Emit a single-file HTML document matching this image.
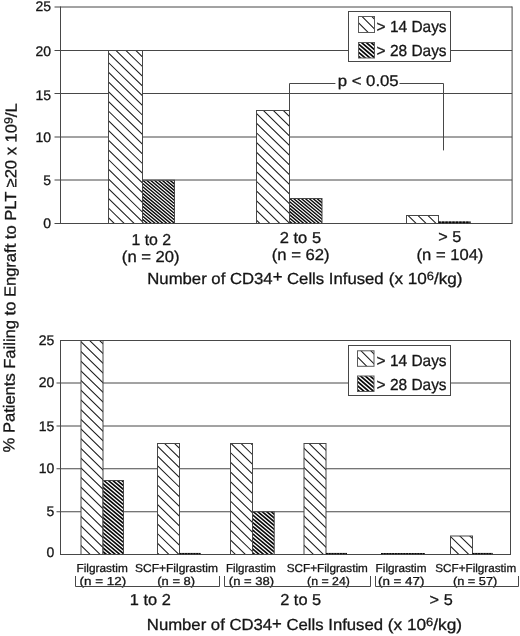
<!DOCTYPE html>
<html lang="en"><head><meta charset="utf-8"><title>Figure</title>
<style>html,body{margin:0;padding:0;background:#fff}svg{display:block;will-change:transform;filter:grayscale(1)}text{font-family:"Liberation Sans",Arial,Helvetica,sans-serif;fill:#151515;stroke:#151515;stroke-width:0.3px;text-rendering:geometricPrecision}</style>
</head><body>
<svg width="520" height="636" viewBox="0 0 520 636">
<rect width="520" height="636" fill="#fff"/>
<line x1="54.5" y1="7.00" x2="512.1" y2="7.00" stroke="#474747" stroke-width="1"/>
<line x1="54.5" y1="50.50" x2="512.1" y2="50.50" stroke="#474747" stroke-width="1"/>
<line x1="54.5" y1="93.50" x2="512.1" y2="93.50" stroke="#474747" stroke-width="1"/>
<line x1="54.5" y1="137.00" x2="512.1" y2="137.00" stroke="#474747" stroke-width="1"/>
<line x1="54.5" y1="180.00" x2="512.1" y2="180.00" stroke="#474747" stroke-width="1"/>
<line x1="54.5" y1="223.50" x2="512.1" y2="223.50" stroke="#474747" stroke-width="1"/>
<line x1="60.5" y1="6.50" x2="60.5" y2="224.00" stroke="#474747" stroke-width="1"/>
<line x1="512.1" y1="6.50" x2="512.1" y2="224.00" stroke="#474747" stroke-width="1"/>
<text x="51.0" y="11.4" font-size="14" text-anchor="end">25</text>
<text x="51.0" y="56.3" font-size="14" text-anchor="end">20</text>
<text x="51.0" y="99.5" font-size="14" text-anchor="end">15</text>
<text x="51.0" y="141.8" font-size="14" text-anchor="end">10</text>
<text x="51.0" y="184.6" font-size="14" text-anchor="end">5</text>
<text x="51.0" y="228.0" font-size="14" text-anchor="end">0</text>
<clipPath id="c1"><rect x="108.50" y="50.50" width="34.00" height="173.00"/></clipPath>
<rect x="108.50" y="50.50" width="34.00" height="173.00" fill="#fff"/>
<path clip-path="url(#c1)" d="M106.50,2.45L144.50,39.50M106.50,12.15L144.50,49.20M106.50,21.85L144.50,58.90M106.50,31.55L144.50,68.60M106.50,41.25L144.50,78.30M106.50,50.95L144.50,88.00M106.50,60.65L144.50,97.70M106.50,70.35L144.50,107.40M106.50,80.05L144.50,117.10M106.50,89.75L144.50,126.80M106.50,99.45L144.50,136.50M106.50,109.15L144.50,146.20M106.50,118.85L144.50,155.90M106.50,128.55L144.50,165.60M106.50,138.25L144.50,175.30M106.50,147.95L144.50,185.00M106.50,157.65L144.50,194.70M106.50,167.35L144.50,204.40M106.50,177.05L144.50,214.10M106.50,186.75L144.50,223.80M106.50,196.45L144.50,233.50M106.50,206.15L144.50,243.20M106.50,215.85L144.50,252.90M106.50,225.55L144.50,262.60M106.50,235.25L144.50,272.30" stroke="#1c1c1c" stroke-width="1.05" fill="none"/>
<rect x="108.50" y="50.50" width="34.00" height="173.00" fill="none" stroke="#474747" stroke-width="1"/>
<clipPath id="c2"><rect x="142.50" y="180.20" width="32.00" height="43.30"/></clipPath>
<rect x="142.50" y="180.20" width="32.00" height="43.30" fill="#fff"/>
<path clip-path="url(#c2)" d="M140.50,145.67L176.50,175.91M140.50,148.94L176.50,179.18M140.50,152.21L176.50,182.45M140.50,155.48L176.50,185.72M140.50,158.75L176.50,188.99M140.50,162.02L176.50,192.26M140.50,165.29L176.50,195.53M140.50,168.56L176.50,198.80M140.50,171.83L176.50,202.07M140.50,175.10L176.50,205.34M140.50,178.37L176.50,208.61M140.50,181.64L176.50,211.88M140.50,184.91L176.50,215.15M140.50,188.18L176.50,218.42M140.50,191.45L176.50,221.69M140.50,194.72L176.50,224.96M140.50,197.99L176.50,228.23M140.50,201.26L176.50,231.50M140.50,204.53L176.50,234.77M140.50,207.80L176.50,238.04M140.50,211.07L176.50,241.31M140.50,214.34L176.50,244.58M140.50,217.61L176.50,247.85M140.50,220.88L176.50,251.12M140.50,224.15L176.50,254.39M140.50,227.42L176.50,257.66" stroke="#0a0a0a" stroke-width="1.4026992000000003" fill="none"/>
<rect x="142.50" y="180.20" width="32.00" height="43.30" fill="none" stroke="#474747" stroke-width="1"/>
<clipPath id="c3"><rect x="256.50" y="110.50" width="33.00" height="113.00"/></clipPath>
<rect x="256.50" y="110.50" width="33.00" height="113.00" fill="#fff"/>
<path clip-path="url(#c3)" d="M254.50,63.00L291.50,99.08M254.50,72.70L291.50,108.78M254.50,82.40L291.50,118.48M254.50,92.10L291.50,128.18M254.50,101.80L291.50,137.88M254.50,111.50L291.50,147.57M254.50,121.20L291.50,157.27M254.50,130.90L291.50,166.97M254.50,140.60L291.50,176.68M254.50,150.30L291.50,186.38M254.50,160.00L291.50,196.07M254.50,169.70L291.50,205.77M254.50,179.40L291.50,215.47M254.50,189.10L291.50,225.18M254.50,198.80L291.50,234.88M254.50,208.50L291.50,244.57M254.50,218.20L291.50,254.27M254.50,227.90L291.50,263.97M254.50,237.60L291.50,273.68" stroke="#1c1c1c" stroke-width="1.05" fill="none"/>
<rect x="256.50" y="110.50" width="33.00" height="113.00" fill="none" stroke="#474747" stroke-width="1"/>
<clipPath id="c4"><rect x="289.50" y="198.50" width="32.50" height="25.00"/></clipPath>
<rect x="289.50" y="198.50" width="32.50" height="25.00" fill="#fff"/>
<path clip-path="url(#c4)" d="M287.50,163.97L324.00,194.63M287.50,167.24L324.00,197.90M287.50,170.51L324.00,201.17M287.50,173.78L324.00,204.44M287.50,177.05L324.00,207.71M287.50,180.32L324.00,210.98M287.50,183.59L324.00,214.25M287.50,186.86L324.00,217.52M287.50,190.13L324.00,220.79M287.50,193.40L324.00,224.06M287.50,196.67L324.00,227.33M287.50,199.94L324.00,230.60M287.50,203.21L324.00,233.87M287.50,206.48L324.00,237.14M287.50,209.75L324.00,240.41M287.50,213.02L324.00,243.68M287.50,216.29L324.00,246.95M287.50,219.56L324.00,250.22M287.50,222.83L324.00,253.49M287.50,226.10L324.00,256.76" stroke="#0a0a0a" stroke-width="1.4026992000000003" fill="none"/>
<rect x="289.50" y="198.50" width="32.50" height="25.00" fill="none" stroke="#474747" stroke-width="1"/>
<clipPath id="c5"><rect x="406.50" y="215.50" width="32.00" height="8.00"/></clipPath>
<rect x="406.50" y="215.50" width="32.00" height="8.00" fill="#fff"/>
<path clip-path="url(#c5)" d="M404.50,163.55L440.50,198.65M404.50,173.25L440.50,208.35M404.50,182.95L440.50,218.05M404.50,192.65L440.50,227.75M404.50,202.35L440.50,237.45M404.50,212.05L440.50,247.15M404.50,221.75L440.50,256.85M404.50,231.45L440.50,266.55" stroke="#1c1c1c" stroke-width="1.05" fill="none"/>
<rect x="406.50" y="215.50" width="32.00" height="8.00" fill="none" stroke="#474747" stroke-width="1"/>
<line x1="438.5" y1="222.3" x2="470.5" y2="222.3" stroke="#555" stroke-width="1.7"/>
<line x1="438.5" y1="222.3" x2="470.5" y2="222.3" stroke="#0a0a0a" stroke-width="1.7" stroke-dasharray="2.3 1.16"/>
<rect x="348.5" y="11.5" width="102.0" height="50.0" fill="#fff" stroke="#474747" stroke-width="1"/>
<clipPath id="c6"><rect x="358.50" y="16.50" width="16.00" height="16.00"/></clipPath>
<rect x="358.50" y="16.50" width="16.00" height="16.00" fill="#fff"/>
<path clip-path="url(#c6)" d="M356.50,-18.45L376.50,1.55M356.50,-8.65L376.50,11.35M356.50,1.15L376.50,21.15M356.50,10.95L376.50,30.95M356.50,20.75L376.50,40.75M356.50,30.55L376.50,50.55M356.50,40.35L376.50,60.35" stroke="#1c1c1c" stroke-width="1.05" fill="none"/>
<rect x="358.50" y="16.50" width="16.00" height="16.00" fill="none" stroke="#5a5a5a" stroke-width="1"/>
<clipPath id="c7"><rect x="358.50" y="42.50" width="16.00" height="15.50"/></clipPath>
<rect x="358.50" y="42.50" width="16.00" height="15.50" fill="#fff"/>
<path clip-path="url(#c7)" d="M356.50,21.77L376.50,39.03M356.50,25.87L376.50,43.13M356.50,29.97L376.50,47.23M356.50,34.07L376.50,51.33M356.50,38.17L376.50,55.43M356.50,42.27L376.50,59.53M356.50,46.37L376.50,63.63M356.50,50.47L376.50,67.73M356.50,54.57L376.50,71.83M356.50,58.67L376.50,75.93M356.50,62.77L376.50,80.03" stroke="#0a0a0a" stroke-width="1.72" fill="none"/>
<rect x="358.50" y="42.50" width="16.00" height="15.50" fill="none" stroke="#5a5a5a" stroke-width="1"/>
<text x="376.62" y="31.5" font-size="16" textLength="69.97" lengthAdjust="spacingAndGlyphs">&gt; 14 Days</text>
<text x="376.62" y="56.2" font-size="16" textLength="69.97" lengthAdjust="spacingAndGlyphs">&gt; 28 Days</text>
<path d="M289.5,110.5 V83.5 H335.4 M399.5,83.5 H443.5 V150.4" stroke="#474747" stroke-width="1" fill="none"/>
<text x="337.66" y="86.4" font-size="15.5" textLength="61.03" lengthAdjust="spacingAndGlyphs">p &lt; 0.05</text>
<text x="131.46" y="244.5" font-size="15.8" textLength="39.68" lengthAdjust="spacingAndGlyphs">1 to 2</text>
<text x="121.86" y="262.3" font-size="15.8" textLength="57.80" lengthAdjust="spacingAndGlyphs">(n = 20)</text>
<text x="279.78" y="242.9" font-size="15.8" textLength="41.32" lengthAdjust="spacingAndGlyphs">2 to 5</text>
<text x="271.71" y="259.7" font-size="15.8" textLength="57.87" lengthAdjust="spacingAndGlyphs">(n = 62)</text>
<text x="438.19" y="242.4" font-size="15.8" textLength="23.07" lengthAdjust="spacingAndGlyphs">&gt; 5</text>
<text x="416.56" y="259.5" font-size="15.8" textLength="66.85" lengthAdjust="spacingAndGlyphs">(n = 104)</text>
<text x="147.28" y="283.6" font-size="16" textLength="236.37" lengthAdjust="spacingAndGlyphs">Number of CD34<tspan dy="-1.6">+</tspan><tspan dy="1.6"> Cells Infused</tspan></text>
<text x="388.69" y="283.6" font-size="16" textLength="73.79" lengthAdjust="spacingAndGlyphs">(x 10<tspan dy="-4" font-size="12">6</tspan><tspan dy="4">/kg)</tspan></text>
<line x1="60.5" y1="340.50" x2="510.5" y2="340.50" stroke="#474747" stroke-width="1"/>
<line x1="56.5" y1="383.00" x2="510.5" y2="383.00" stroke="#474747" stroke-width="1"/>
<line x1="56.5" y1="426.00" x2="510.5" y2="426.00" stroke="#474747" stroke-width="1"/>
<line x1="56.5" y1="468.75" x2="510.5" y2="468.75" stroke="#474747" stroke-width="1"/>
<line x1="56.5" y1="511.75" x2="510.5" y2="511.75" stroke="#474747" stroke-width="1"/>
<line x1="60.5" y1="554.50" x2="510.5" y2="554.50" stroke="#474747" stroke-width="1"/>
<line x1="60.5" y1="340.00" x2="60.5" y2="555.00" stroke="#474747" stroke-width="1"/>
<line x1="510.5" y1="340.00" x2="510.5" y2="555.00" stroke="#474747" stroke-width="1"/>
<text x="54.4" y="344.8" font-size="14" text-anchor="end">25</text>
<text x="54.4" y="387.3" font-size="14" text-anchor="end">20</text>
<text x="54.4" y="431.0" font-size="14" text-anchor="end">15</text>
<text x="54.4" y="472.7" font-size="14" text-anchor="end">10</text>
<text x="54.4" y="515.8" font-size="14" text-anchor="end">5</text>
<text x="54.4" y="557.3" font-size="14" text-anchor="end">0</text>
<clipPath id="c8"><rect x="81.00" y="340.50" width="22.00" height="214.00"/></clipPath>
<rect x="81.00" y="340.50" width="22.00" height="214.00" fill="#fff"/>
<path clip-path="url(#c8)" d="M79.00,301.05L105.00,326.40M79.00,310.75L105.00,336.10M79.00,320.45L105.00,345.80M79.00,330.15L105.00,355.50M79.00,339.85L105.00,365.20M79.00,349.55L105.00,374.90M79.00,359.25L105.00,384.60M79.00,368.95L105.00,394.30M79.00,378.65L105.00,404.00M79.00,388.35L105.00,413.70M79.00,398.05L105.00,423.40M79.00,407.75L105.00,433.10M79.00,417.45L105.00,442.80M79.00,427.15L105.00,452.50M79.00,436.85L105.00,462.20M79.00,446.55L105.00,471.90M79.00,456.25L105.00,481.60M79.00,465.95L105.00,491.30M79.00,475.65L105.00,501.00M79.00,485.35L105.00,510.70M79.00,495.05L105.00,520.40M79.00,504.75L105.00,530.10M79.00,514.45L105.00,539.80M79.00,524.15L105.00,549.50M79.00,533.85L105.00,559.20M79.00,543.55L105.00,568.90M79.00,553.25L105.00,578.60M79.00,562.95L105.00,588.30" stroke="#1c1c1c" stroke-width="1.05" fill="none"/>
<rect x="81.00" y="340.50" width="22.00" height="214.00" fill="none" stroke="#474747" stroke-width="1"/>
<clipPath id="c9"><rect x="103.00" y="480.50" width="20.50" height="74.00"/></clipPath>
<rect x="103.00" y="480.50" width="20.50" height="74.00" fill="#fff"/>
<path clip-path="url(#c9)" d="M101.00,455.44L125.50,476.02M101.00,459.22L125.50,479.80M101.00,463.00L125.50,483.58M101.00,466.78L125.50,487.36M101.00,470.56L125.50,491.14M101.00,474.34L125.50,494.92M101.00,478.12L125.50,498.70M101.00,481.90L125.50,502.48M101.00,485.68L125.50,506.26M101.00,489.46L125.50,510.04M101.00,493.24L125.50,513.82M101.00,497.02L125.50,517.60M101.00,500.80L125.50,521.38M101.00,504.58L125.50,525.16M101.00,508.36L125.50,528.94M101.00,512.14L125.50,532.72M101.00,515.92L125.50,536.50M101.00,519.70L125.50,540.28M101.00,523.48L125.50,544.06M101.00,527.26L125.50,547.84M101.00,531.04L125.50,551.62M101.00,534.82L125.50,555.40M101.00,538.60L125.50,559.18M101.00,542.38L125.50,562.96M101.00,546.16L125.50,566.74M101.00,549.94L125.50,570.52M101.00,553.72L125.50,574.30M101.00,557.50L125.50,578.08" stroke="#0a0a0a" stroke-width="1.6214688000000002" fill="none"/>
<rect x="103.00" y="480.50" width="20.50" height="74.00" fill="none" stroke="#474747" stroke-width="1"/>
<clipPath id="c10"><rect x="157.50" y="443.50" width="22.00" height="111.00"/></clipPath>
<rect x="157.50" y="443.50" width="22.00" height="111.00" fill="#fff"/>
<path clip-path="url(#c10)" d="M155.50,405.55L181.50,430.90M155.50,415.25L181.50,440.60M155.50,424.95L181.50,450.30M155.50,434.65L181.50,460.00M155.50,444.35L181.50,469.70M155.50,454.05L181.50,479.40M155.50,463.75L181.50,489.10M155.50,473.45L181.50,498.80M155.50,483.15L181.50,508.50M155.50,492.85L181.50,518.20M155.50,502.55L181.50,527.90M155.50,512.25L181.50,537.60M155.50,521.95L181.50,547.30M155.50,531.65L181.50,557.00M155.50,541.35L181.50,566.70M155.50,551.05L181.50,576.40M155.50,560.75L181.50,586.10M155.50,570.45L181.50,595.80" stroke="#1c1c1c" stroke-width="1.05" fill="none"/>
<rect x="157.50" y="443.50" width="22.00" height="111.00" fill="none" stroke="#474747" stroke-width="1"/>
<line x1="179.5" y1="553.55" x2="200.5" y2="553.55" stroke="#555" stroke-width="1.3"/>
<line x1="179.5" y1="553.55" x2="200.5" y2="553.55" stroke="#0a0a0a" stroke-width="1.3" stroke-dasharray="1.8 1.0"/>
<clipPath id="c11"><rect x="230.50" y="443.50" width="22.00" height="111.00"/></clipPath>
<rect x="230.50" y="443.50" width="22.00" height="111.00" fill="#fff"/>
<path clip-path="url(#c11)" d="M228.50,402.15L254.50,427.50M228.50,411.85L254.50,437.20M228.50,421.55L254.50,446.90M228.50,431.25L254.50,456.60M228.50,440.95L254.50,466.30M228.50,450.65L254.50,476.00M228.50,460.35L254.50,485.70M228.50,470.05L254.50,495.40M228.50,479.75L254.50,505.10M228.50,489.45L254.50,514.80M228.50,499.15L254.50,524.50M228.50,508.85L254.50,534.20M228.50,518.55L254.50,543.90M228.50,528.25L254.50,553.60M228.50,537.95L254.50,563.30M228.50,547.65L254.50,573.00M228.50,557.35L254.50,582.70M228.50,567.05L254.50,592.40" stroke="#1c1c1c" stroke-width="1.05" fill="none"/>
<rect x="230.50" y="443.50" width="22.00" height="111.00" fill="none" stroke="#474747" stroke-width="1"/>
<clipPath id="c12"><rect x="252.50" y="511.75" width="21.70" height="42.75"/></clipPath>
<rect x="252.50" y="511.75" width="21.70" height="42.75" fill="#fff"/>
<path clip-path="url(#c12)" d="M250.50,486.69L276.20,508.28M250.50,490.47L276.20,512.06M250.50,494.25L276.20,515.84M250.50,498.03L276.20,519.62M250.50,501.81L276.20,523.40M250.50,505.59L276.20,527.18M250.50,509.37L276.20,530.96M250.50,513.15L276.20,534.74M250.50,516.93L276.20,538.52M250.50,520.71L276.20,542.30M250.50,524.49L276.20,546.08M250.50,528.27L276.20,549.86M250.50,532.05L276.20,553.64M250.50,535.83L276.20,557.42M250.50,539.61L276.20,561.20M250.50,543.39L276.20,564.98M250.50,547.17L276.20,568.76M250.50,550.95L276.20,572.54M250.50,554.73L276.20,576.32M250.50,558.51L276.20,580.10" stroke="#0a0a0a" stroke-width="1.6214688000000002" fill="none"/>
<rect x="252.50" y="511.75" width="21.70" height="42.75" fill="none" stroke="#474747" stroke-width="1"/>
<clipPath id="c13"><rect x="304.00" y="443.50" width="22.00" height="111.00"/></clipPath>
<rect x="304.00" y="443.50" width="22.00" height="111.00" fill="#fff"/>
<path clip-path="url(#c13)" d="M302.00,407.45L328.00,432.80M302.00,417.15L328.00,442.50M302.00,426.85L328.00,452.20M302.00,436.55L328.00,461.90M302.00,446.25L328.00,471.60M302.00,455.95L328.00,481.30M302.00,465.65L328.00,491.00M302.00,475.35L328.00,500.70M302.00,485.05L328.00,510.40M302.00,494.75L328.00,520.10M302.00,504.45L328.00,529.80M302.00,514.15L328.00,539.50M302.00,523.85L328.00,549.20M302.00,533.55L328.00,558.90M302.00,543.25L328.00,568.60M302.00,552.95L328.00,578.30M302.00,562.65L328.00,588.00" stroke="#1c1c1c" stroke-width="1.05" fill="none"/>
<rect x="304.00" y="443.50" width="22.00" height="111.00" fill="none" stroke="#474747" stroke-width="1"/>
<line x1="326" y1="553.55" x2="347" y2="553.55" stroke="#555" stroke-width="1.3"/>
<line x1="326" y1="553.55" x2="347" y2="553.55" stroke="#0a0a0a" stroke-width="1.3" stroke-dasharray="1.8 1.0"/>
<line x1="381" y1="553.55" x2="424.6" y2="553.55" stroke="#555" stroke-width="1.3"/>
<line x1="381" y1="553.55" x2="424.6" y2="553.55" stroke="#0a0a0a" stroke-width="1.3" stroke-dasharray="1.8 1.0"/>
<clipPath id="c14"><rect x="450.50" y="536.00" width="22.00" height="18.50"/></clipPath>
<rect x="450.50" y="536.00" width="22.00" height="18.50" fill="#fff"/>
<path clip-path="url(#c14)" d="M448.50,495.85L474.50,521.20M448.50,505.55L474.50,530.90M448.50,515.25L474.50,540.60M448.50,524.95L474.50,550.30M448.50,534.65L474.50,560.00M448.50,544.35L474.50,569.70M448.50,554.05L474.50,579.40M448.50,563.75L474.50,589.10" stroke="#1c1c1c" stroke-width="1.05" fill="none"/>
<rect x="450.50" y="536.00" width="22.00" height="18.50" fill="none" stroke="#474747" stroke-width="1"/>
<line x1="472.5" y1="553.55" x2="492.6" y2="553.55" stroke="#555" stroke-width="1.3"/>
<line x1="472.5" y1="553.55" x2="492.6" y2="553.55" stroke="#0a0a0a" stroke-width="1.3" stroke-dasharray="1.8 1.0"/>
<rect x="348.5" y="345.5" width="102.0" height="50.0" fill="#fff" stroke="#474747" stroke-width="1"/>
<clipPath id="c15"><rect x="357.50" y="350.80" width="16.50" height="15.50"/></clipPath>
<rect x="357.50" y="350.80" width="16.50" height="15.50" fill="#fff"/>
<path clip-path="url(#c15)" d="M355.50,315.85L376.00,336.35M355.50,325.65L376.00,346.15M355.50,335.45L376.00,355.95M355.50,345.25L376.00,365.75M355.50,355.05L376.00,375.55M355.50,364.85L376.00,385.35M355.50,374.65L376.00,395.15" stroke="#1c1c1c" stroke-width="1.05" fill="none"/>
<rect x="357.50" y="350.80" width="16.50" height="15.50" fill="none" stroke="#5a5a5a" stroke-width="1"/>
<clipPath id="c16"><rect x="357.50" y="376.00" width="16.50" height="15.50"/></clipPath>
<rect x="357.50" y="376.00" width="16.50" height="15.50" fill="#fff"/>
<path clip-path="url(#c16)" d="M355.50,355.27L376.00,372.97M355.50,359.37L376.00,377.07M355.50,363.47L376.00,381.17M355.50,367.57L376.00,385.27M355.50,371.67L376.00,389.37M355.50,375.77L376.00,393.47M355.50,379.87L376.00,397.57M355.50,383.97L376.00,401.67M355.50,388.07L376.00,405.77M355.50,392.17L376.00,409.87M355.50,396.27L376.00,413.97" stroke="#0a0a0a" stroke-width="1.72" fill="none"/>
<rect x="357.50" y="376.00" width="16.50" height="15.50" fill="none" stroke="#5a5a5a" stroke-width="1"/>
<text x="376.62" y="365.5" font-size="16" textLength="69.97" lengthAdjust="spacingAndGlyphs">&gt; 14 Days</text>
<text x="376.62" y="389.7" font-size="16" textLength="69.97" lengthAdjust="spacingAndGlyphs">&gt; 28 Days</text>
<text x="76.47" y="572" font-size="11.5" textLength="51.36" lengthAdjust="spacingAndGlyphs">Filgrastim</text>
<text x="135.01" y="572" font-size="11.5" textLength="83.01" lengthAdjust="spacingAndGlyphs">SCF+Filgrastim</text>
<text x="225.99" y="572" font-size="11.5" textLength="49.77" lengthAdjust="spacingAndGlyphs">Filgrastim</text>
<text x="286.77" y="572" font-size="11.5" textLength="81.08" lengthAdjust="spacingAndGlyphs">SCF+Filgrastim</text>
<text x="375.63" y="572" font-size="11.5" textLength="50.86" lengthAdjust="spacingAndGlyphs">Filgrastim</text>
<text x="435.29" y="572" font-size="11.5" textLength="80.90" lengthAdjust="spacingAndGlyphs">SCF+Filgrastim</text>
<text x="79.58" y="585.1" font-size="11.5" textLength="46.68" lengthAdjust="spacingAndGlyphs">(n = 12)</text>
<text x="157.32" y="585.1" font-size="11.5" textLength="37.75" lengthAdjust="spacingAndGlyphs">(n = 8)</text>
<text x="228.87" y="585.1" font-size="11.5" textLength="45.25" lengthAdjust="spacingAndGlyphs">(n = 38)</text>
<text x="307.12" y="585.1" font-size="11.5" textLength="42.81" lengthAdjust="spacingAndGlyphs">(n = 24)</text>
<text x="377.97" y="585.1" font-size="11.5" textLength="46.49" lengthAdjust="spacingAndGlyphs">(n = 47)</text>
<text x="452.91" y="585.1" font-size="11.5" textLength="44.40" lengthAdjust="spacingAndGlyphs">(n = 57)</text>
<text x="129.89" y="605.4" font-size="15.8" textLength="40.98" lengthAdjust="spacingAndGlyphs">1 to 2</text>
<text x="280.23" y="605.4" font-size="15.8" textLength="40.96" lengthAdjust="spacingAndGlyphs">2 to 5</text>
<text x="429.63" y="605.4" font-size="15.8" textLength="23.06" lengthAdjust="spacingAndGlyphs">&gt; 5</text>
<text x="146.84" y="630.3" font-size="16" textLength="236.22" lengthAdjust="spacingAndGlyphs">Number of CD34<tspan dy="-1.6">+</tspan><tspan dy="1.6"> Cells Infused</tspan></text>
<text x="387.80" y="630.3" font-size="16" textLength="74.22" lengthAdjust="spacingAndGlyphs">(x 10<tspan dy="-4" font-size="12">6</tspan><tspan dy="4">/kg)</tspan></text>
<path d="M75.5,576 V586.5 H219.5 V576" stroke="#474747" stroke-width="1" fill="none"/>
<path d="M224.5,576 V586.5 H370.5 V576" stroke="#474747" stroke-width="1" fill="none"/>
<path d="M375.5,576 V586.5 H518.5 V576" stroke="#474747" stroke-width="1" fill="none"/>
<text transform="translate(14.3,452.39) rotate(-89.6)" font-size="16" textLength="349.02" lengthAdjust="spacingAndGlyphs">% Patients Failing to Engraft to PLT ≥20 x 10<tspan dy="-4" font-size="12">9</tspan><tspan dy="4">/L</tspan></text>
</svg></body></html>
